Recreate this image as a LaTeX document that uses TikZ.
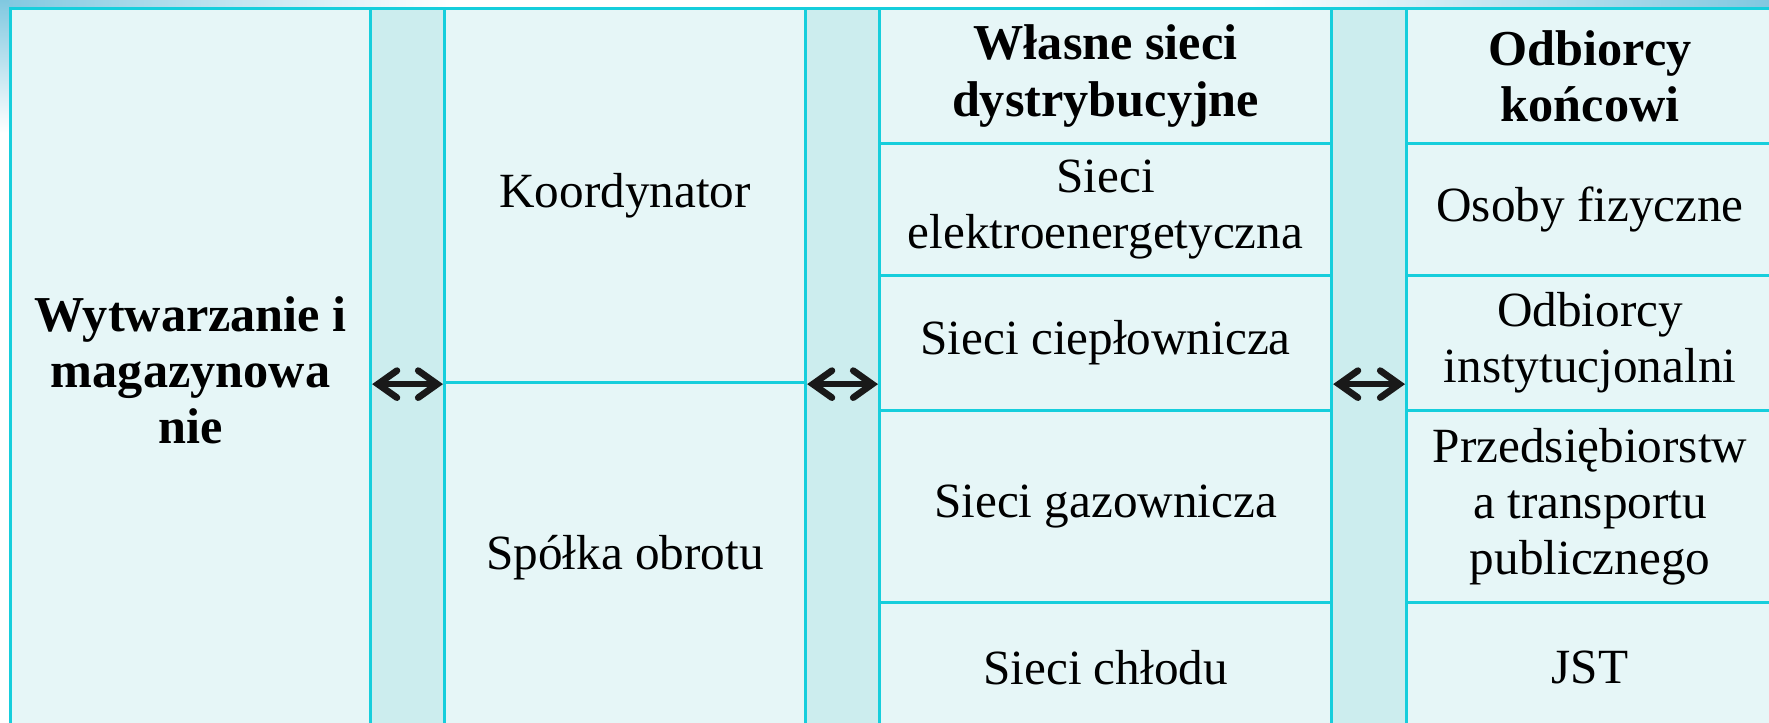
\documentclass[tikz,border=0pt]{standalone}
\usepackage{fontspec}
\setmainfont{Liberation Serif}
\usetikzlibrary{arrows.meta,positioning}
\definecolor{celltint}{RGB}{230,246,247}
\definecolor{bartint}{RGB}{204,237,238}
\definecolor{gridcyan}{RGB}{22,206,220}
\definecolor{skyblue}{RGB}{128,200,224}

\begin{document}
\begin{tikzpicture}[
  every node/.style={font=\fontsize{14}{16}\selectfont, align=center},
  cell/.style={rectangle, draw=gridcyan, line width=0.9pt, fill=celltint, anchor=north west, inner sep=0pt},
  bar/.style={cell, fill=bartint, minimum width=0.74cm, minimum height=7.24cm},
  head/.style={font=\fontsize{14.3}{16}\selectfont\bfseries},
  flow/.style={{Straight Barb[length=0.19cm,width=0.27cm,line cap=round]}-{Straight Barb[length=0.19cm,width=0.27cm,line cap=round]}, line width=1.9pt, black!90}
]
\clip (0,0) rectangle (17.69,7.23);

% Background
\fill[white] (0,0) rectangle (17.69,7.23);
\shade[left color=skyblue, right color=white] (0,7.0) rectangle (4.5,7.23);
\shade[left color=white, right color=skyblue] (12.5,7.0) rectangle (17.69,7.23);
\shade[top color=skyblue, bottom color=white] (0,5.9) rectangle (0.09,7.23);

% Column 1: generation
\node[cell, head, minimum width=3.60cm, minimum height=7.24cm] (gen) at (0.09,7.16) {Wytwarzanie i\\ magazynowa\\ nie};

% Bar 1
\node[bar] (bar1) at (3.69,7.16) {};

% Column 2: trading
\node[cell, minimum width=3.61cm, minimum height=3.74cm] (koord) at (4.43,7.16) {Koordynator};
\node[cell, minimum width=3.61cm, minimum height=3.50cm] (spolka) at (4.43,3.42) {Spółka obrotu};

% Bar 2
\node[bar] (bar2) at (8.04,7.16) {};

% Column 3: own networks
\node[cell, head, minimum width=4.52cm, minimum height=1.35cm] (sieci) at (8.78,7.16) {Własne sieci\\ dystrybucyjne};
\node[cell, minimum width=4.52cm, minimum height=1.32cm] (elek) at (8.78,5.81) {Sieci\\ elektroenergetyczna};
\node[cell, minimum width=4.52cm, minimum height=1.35cm] (ciep) at (8.78,4.49) {Sieci ciepłownicza};
\node[cell, minimum width=4.52cm, minimum height=1.92cm] (gaz) at (8.78,3.14) {Sieci gazownicza};
\node[cell, minimum width=4.52cm, minimum height=1.30cm] (chlod) at (8.78,1.22) {Sieci chłodu};

% Bar 3
\node[bar, minimum width=0.75cm] (bar3) at (13.30,7.16) {};

% Column 4: end users
\node[cell, head, minimum width=3.67cm, minimum height=1.35cm] (odb) at (14.05,7.16) {Odbiorcy\\ końcowi};
\node[cell, minimum width=3.67cm, minimum height=1.32cm] (osoby) at (14.05,5.81) {Osoby fizyczne};
\node[cell, minimum width=3.67cm, minimum height=1.35cm] (inst) at (14.05,4.49) {Odbiorcy\\ instytucjonalni};
\node[cell, minimum width=3.67cm, minimum height=1.92cm] (przed) at (14.05,3.14) {Przedsiębiorstw\\ a transportu\\ publicznego};
\node[cell, minimum width=3.67cm, minimum height=1.30cm] (jst) at (14.05,1.22) {JST};

% Arrows between columns
\draw[flow] (gen.east |- koord.south west) -- (koord.south west);
\draw[flow] (koord.south east) -- (ciep.west |- koord.south east);
\draw[flow] (ciep.east |- koord.south east) -- (inst.west |- koord.south east);

\end{tikzpicture}
\end{document}
